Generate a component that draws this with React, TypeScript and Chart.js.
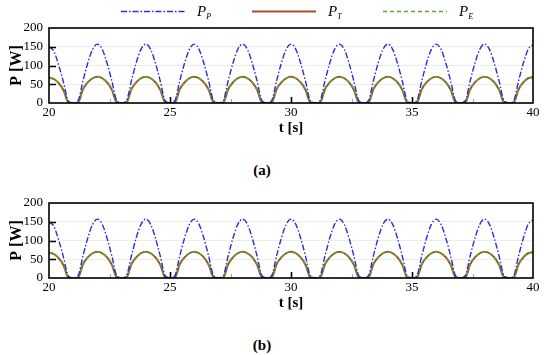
import React, { useEffect, useRef } from "react";
import { Chart, registerables } from "chart.js";

Chart.register(...registerables);

// Sample times (s)
const TIME = [
  20, 20.2, 20.4, 20.6, 20.8, 21, 21.2, 21.4, 21.6, 21.8,
  22, 22.2, 22.4, 22.6, 22.8, 23, 23.2, 23.4, 23.6, 23.8,
  24, 24.2, 24.4, 24.6, 24.8, 25, 25.2, 25.4, 25.6, 25.8,
  26, 26.2, 26.4, 26.6, 26.8, 27, 27.2, 27.4, 27.6, 27.8,
  28, 28.2, 28.4, 28.6, 28.8, 29, 29.2, 29.4, 29.6, 29.8,
  30, 30.2, 30.4, 30.6, 30.8, 31, 31.2, 31.4, 31.6, 31.8,
  32, 32.2, 32.4, 32.6, 32.8, 33, 33.2, 33.4, 33.6, 33.8,
  34, 34.2, 34.4, 34.6, 34.8, 35, 35.2, 35.4, 35.6, 35.8,
  36, 36.2, 36.4, 36.6, 36.8, 37, 37.2, 37.4, 37.6, 37.8,
  38, 38.2, 38.4, 38.6, 38.8, 39, 39.2, 39.4, 39.6, 39.8,
  40,
];

// P_P [W]
const P_P = [
  150, 138, 101, 55, 5, 0, 6, 58, 106, 143,
  157, 143, 106, 58, 6, 0, 6, 58, 106, 143,
  157, 143, 106, 58, 6, 0, 6, 58, 106, 143,
  157, 143, 106, 58, 6, 0, 6, 58, 106, 143,
  157, 143, 106, 58, 6, 0, 6, 58, 106, 143,
  157, 143, 106, 58, 6, 0, 6, 58, 106, 143,
  157, 143, 106, 58, 6, 0, 6, 58, 106, 143,
  157, 143, 106, 58, 6, 0, 6, 58, 106, 143,
  157, 143, 106, 58, 6, 0, 6, 58, 106, 143,
  157, 143, 106, 58, 6, 0, 6, 58, 106, 143,
  155,
];

// P_T [W]
const P_T = [
  68, 64, 53, 34, 2, 0, 1, 36, 55, 66,
  70, 66, 55, 35, 2, 0, 1, 36, 55, 66,
  70, 66, 55, 35, 2, 0, 1, 36, 55, 66,
  70, 66, 55, 35, 2, 0, 1, 36, 55, 66,
  70, 66, 55, 35, 2, 0, 1, 36, 55, 66,
  70, 66, 55, 35, 2, 0, 1, 36, 55, 66,
  70, 66, 55, 35, 2, 0, 1, 36, 55, 66,
  70, 66, 55, 35, 2, 0, 1, 36, 55, 66,
  70, 66, 55, 35, 2, 0, 1, 36, 55, 66,
  70, 66, 55, 35, 2, 0, 1, 36, 55, 66,
  69,
];

// P_E [W]
const P_E = [
  68, 64, 53, 35, 1, 0, 1, 37, 55, 66,
  70, 66, 55, 37, 1, 0, 1, 37, 55, 66,
  70, 66, 55, 37, 1, 0, 1, 37, 55, 66,
  70, 66, 55, 37, 1, 0, 1, 37, 55, 66,
  70, 66, 55, 37, 1, 0, 1, 37, 55, 66,
  70, 66, 55, 37, 1, 0, 1, 37, 55, 66,
  70, 66, 55, 37, 1, 0, 1, 37, 55, 66,
  70, 66, 55, 37, 1, 0, 1, 37, 55, 66,
  70, 66, 55, 37, 1, 0, 1, 37, 55, 66,
  70, 66, 55, 37, 1, 0, 1, 37, 55, 66,
  69,
];

const X_TICKS = [20, 25, 30, 35, 40];
const X_MINOR = [22.5, 27.5, 32.5, 37.5];
const Y_TICKS = [0, 50, 100, 150, 200];
const SERIES_SUBS = ["P", "T", "E"];
const PANEL_LABELS = ["(a)", "(b)"];

const SERIF = "'Liberation Serif', 'Times New Roman', serif";
const W = 550;
const H = 142;

const framePlugin = {
  id: "frame",
  afterDatasetsDraw(chart: any) {
    const { ctx, chartArea: a, scales } = chart;
    const x = scales.x;
    const y = scales.y;
    ctx.save();
    ctx.lineWidth = 1.6;
    ctx.strokeStyle = "#000";
    ctx.beginPath();
    X_TICKS.slice(1, -1).forEach((v) => {
      const px = Math.round(x.getPixelForValue(v)) + 0.5;
      ctx.moveTo(px, a.bottom);
      ctx.lineTo(px, a.bottom - 6);
    });
    Y_TICKS.slice(1, -1).forEach((v) => {
      const py = Math.round(y.getPixelForValue(v)) + 0.5;
      ctx.moveTo(a.left, py);
      ctx.lineTo(a.left + 7, py);
    });
    ctx.stroke();
    ctx.strokeStyle = "#aaa";
    ctx.lineWidth = 1.2;
    ctx.beginPath();
    X_MINOR.forEach((v) => {
      const px = Math.round(x.getPixelForValue(v)) + 0.5;
      ctx.moveTo(px, a.bottom);
      ctx.lineTo(px, a.bottom - 4);
    });
    ctx.stroke();
    ctx.strokeStyle = "#000";
    ctx.lineWidth = 1.6;
    ctx.strokeRect(a.left, a.top, a.right - a.left, a.bottom - a.top);
    ctx.restore();
  },
};

const legendPlugin = {
  id: "customLegend",
  afterDraw(chart: any, _args: any, opts: any) {
    if (!opts || !opts.show) return;
    const { ctx } = chart;
    const starts = [121, 252, 383];
    const lineLen = 64;
    const cy = 11;
    ctx.save();
    chart.data.datasets.forEach((ds: any, i: number) => {
      const x0 = starts[i];
      ctx.beginPath();
      ctx.setLineDash(ds.borderDash || []);
      ctx.strokeStyle = ds.borderColor;
      ctx.lineWidth = ds.borderWidth;
      ctx.moveTo(x0, cy + 0.5);
      ctx.lineTo(x0 + lineLen, cy + 0.5);
      ctx.stroke();
      ctx.setLineDash([]);
      ctx.fillStyle = "#000";
      ctx.textBaseline = "alphabetic";
      ctx.textAlign = "left";
      ctx.font = `italic 15px ${SERIF}`;
      const tx = x0 + lineLen + 12;
      ctx.fillText("P", tx, cy + 5);
      const pw = ctx.measureText("P").width;
      ctx.font = `italic 8px ${SERIF}`;
      ctx.fillText(SERIES_SUBS[i], tx + pw, cy + 8);
    });
    ctx.restore();
  },
};

function buildConfig(showLegend: boolean): any {
  const xy = (arr: number[]) => TIME.map((t, i) => ({ x: t, y: arr[i] }));
  return {
    type: "line",
    data: {
      datasets: [
        {
          label: "P_P",
          data: xy(P_P),
          borderColor: "#2c2cdc",
          borderWidth: 1.4,
          borderDash: [6, 2, 1.5, 2],
          pointRadius: 0,
          cubicInterpolationMode: "monotone",
          order: 0,
        },
        {
          label: "P_T",
          data: xy(P_T),
          borderColor: "#a5502a",
          borderWidth: 2,
          borderDash: [],
          pointRadius: 0,
          cubicInterpolationMode: "monotone",
          order: 2,
        },
        {
          label: "P_E",
          data: xy(P_E),
          borderColor: "#5fa82a",
          borderWidth: 1.6,
          borderDash: [4, 3],
          pointRadius: 0,
          cubicInterpolationMode: "monotone",
          order: 1,
        },
      ],
    },
    options: {
      animation: false,
      responsive: false,
      devicePixelRatio: 1,
      layout: { padding: { left: 0, right: 17, top: 28, bottom: 0 } },
      plugins: {
        legend: { display: false },
        tooltip: { enabled: false },
        customLegend: { show: showLegend },
      },
      scales: {
        x: {
          type: "linear",
          min: 20,
          max: 40,
          afterBuildTicks: (s: any) => {
            s.ticks = X_TICKS.map((v) => ({ value: v }));
          },
          afterFit: (s: any) => {
            s.height = 39;
          },
          grid: { display: false, drawTicks: false },
          border: { display: false },
          ticks: {
            color: "#000",
            font: { family: SERIF, size: 13 },
            padding: 2,
            maxRotation: 0,
            autoSkip: false,
          },
          title: {
            display: true,
            text: "t [s]",
            color: "#000",
            font: { family: SERIF, size: 15, weight: "bold" },
            padding: { top: 0, bottom: 5 },
          },
        },
        y: {
          type: "linear",
          min: 0,
          max: 200,
          afterBuildTicks: (s: any) => {
            s.ticks = Y_TICKS.map((v) => ({ value: v }));
          },
          afterFit: (s: any) => {
            s.width = 49;
          },
          grid: { color: "#ececec", lineWidth: 1, drawTicks: false },
          border: { display: false },
          ticks: {
            color: "#000",
            font: { family: SERIF, size: 13 },
            padding: 6,
            autoSkip: false,
          },
          title: {
            display: true,
            text: "P [W]",
            color: "#000",
            font: { family: SERIF, size: 16, weight: "bold" },
            padding: { top: 7, bottom: 0 },
          },
        },
      },
    },
    plugins: [framePlugin, legendPlugin],
  };
}

function Panel({ top, showLegend, label }: { top: number; showLegend: boolean; label: string }) {
  const ref = useRef<HTMLCanvasElement>(null);
  useEffect(() => {
    if (!ref.current) return;
    const chart = new Chart(ref.current, buildConfig(showLegend));
    return () => chart.destroy();
  }, [showLegend]);
  return (
    <>
      <div style={{ position: "absolute", left: 0, top, width: W, height: H }}>
        <canvas ref={ref} width={W} height={H} style={{ display: "block" }} />
      </div>
      <div
        style={{
          position: "absolute",
          left: 212,
          width: 100,
          top: top + 161,
          textAlign: "center",
          fontFamily: SERIF,
          fontWeight: "bold",
          fontSize: 15,
          lineHeight: "18px",
          color: "#000",
        }}
      >
        {label}
      </div>
    </>
  );
}

export default function App() {
  return (
    <div style={{ position: "absolute", left: 0, top: 0, width: W, height: 355, background: "#fff" }}>
      <Panel top={0} showLegend={true} label={PANEL_LABELS[0]} />
      <Panel top={175} showLegend={false} label={PANEL_LABELS[1]} />
    </div>
  );
}
